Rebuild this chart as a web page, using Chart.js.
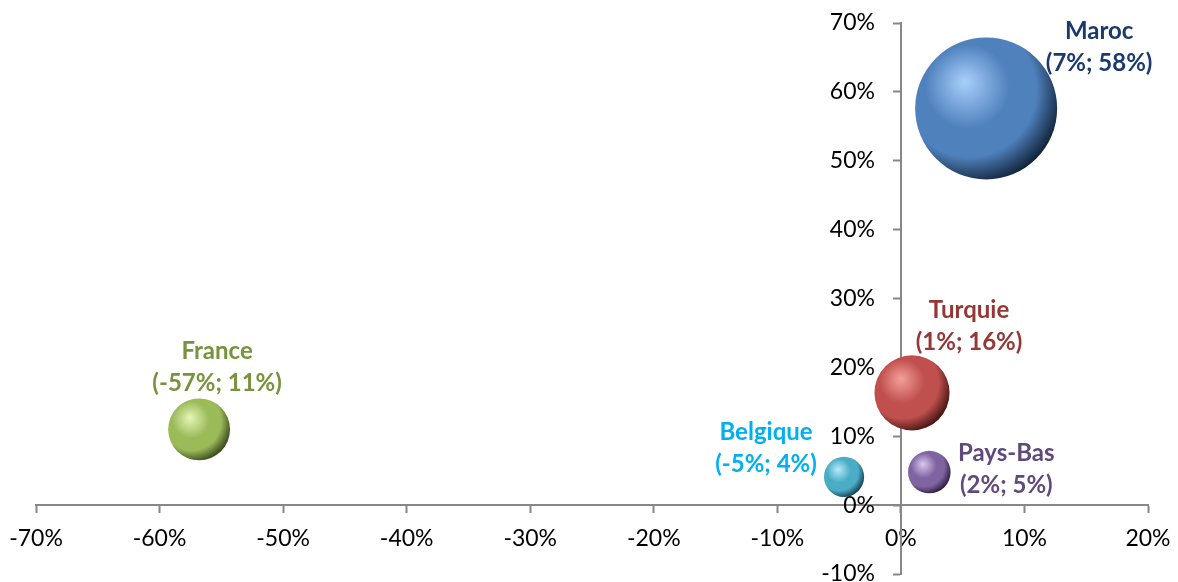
<!DOCTYPE html>
<html>
<head>
<meta charset="utf-8">
<title>Bubble chart</title>
<script src="https://cdn.jsdelivr.net/npm/chart.js@4/dist/chart.umd.min.js"></script>
<style>
  html, body { margin: 0; padding: 0; background: #ffffff; }
  #wrap { width: 1178px; height: 582px; position: relative; }
</style>
</head>
<body>
<div id="wrap"><canvas id="chart" width="1178" height="582"></canvas></div>
<script>
// Countries and their two growth rates (percent), plus a relative bubble weight
const countries = ['Maroc', 'Turquie', 'Belgique', 'Pays-Bas', 'France'];
const xValues   = [6.9, 0.9, -4.6, 2.3, -56.8];
const yValues   = [57.6, 16.3, 4.1, 4.8, 11.0];
const weights   = [100, 28, 8, 9, 19];
const xTicks    = [-70, -60, -50, -40, -30, -20, -10, 0, 10, 20];
const yTicks    = [-10, 0, 10, 20, 30, 40, 50, 60, 70];

// Styling: sphere colours (light / base / dark) and label colours
const palette = [
  { light: '#a9d0fb', base: '#4f81bd', dark: '#0f1f33', text: '#1a3a6e' },
  { light: '#f4a09c', base: '#c0504d', dark: '#3d1110', text: '#953735' },
  { light: '#b5ecfb', base: '#4bacc6', dark: '#103a47', text: '#00b0f0' },
  { light: '#d9c8f0', base: '#8064a2', dark: '#261a36', text: '#604a7b' },
  { light: '#e6f7b8', base: '#9bbb59', dark: '#33421a', text: '#77933c' }
];
// Label block placement relative to the bubble centre (pixels)
const labelPlacement = [
  { dx: 113, dy: -61 },
  { dx: 57, dy: -67 },
  { dx: -78, dy: -29 },
  { dx: 77, dy: -3 },
  { dx: 18, dy: -62 }
];
const MAX_RADIUS = 71;
const maxWeight = Math.max(...weights);

const pct = v => Math.round(v) + '%';

const points = countries.map((c, i) => ({
  x: xValues[i],
  y: yValues[i],
  r: MAX_RADIUS * Math.sqrt(weights[i] / maxWeight)
}));

// Bubbles may reach the plot edge; no extra inset for their radius
Chart.BubbleController.prototype.getMaxOverflow = function () { return false; };

function sphereFill(ctx) {
  const i = ctx.dataIndex;
  const col = palette[i];
  const chart = ctx.chart;
  if (ctx.type !== 'data' || !chart.chartArea || !chart.scales.x) return col.base;
  const p = ctx.raw;
  const cx = chart.scales.x.getPixelForValue(p.x);
  const cy = chart.scales.y.getPixelForValue(p.y);
  const r = p.r;
  const g = chart.ctx.createRadialGradient(cx - 0.3 * r, cy - 0.38 * r, 0, cx - 0.22 * r, cy - 0.22 * r, 1.32 * r);
  g.addColorStop(0, col.light);
  g.addColorStop(0.45, col.base);
  g.addColorStop(0.72, col.base);
  g.addColorStop(1, col.dark);
  return g;
}

const labelPlugin = {
  id: 'bubbleLabels',
  afterDatasetsDraw(chart) {
    const meta = chart.getDatasetMeta(0);
    const ctx = chart.ctx;
    ctx.save();
    ctx.font = 'bold 24px Lato, "Open Sans", sans-serif';
    ctx.textAlign = 'center';
    ctx.textBaseline = 'middle';
    meta.data.forEach((el, i) => {
      const pl = labelPlacement[i];
      const cx = el.x + pl.dx;
      const cy = el.y + pl.dy;
      ctx.fillStyle = palette[i].text;
      ctx.fillText(countries[i], cx, cy - 16);
      ctx.fillText('(' + pct(xValues[i]) + '; ' + pct(yValues[i]) + ')', cx, cy + 16);
    });
    ctx.restore();
  }
};

const axisColor = '#878787';
const tickFont = { family: 'Lato, "Open Sans", sans-serif', size: 23 };
const fixedTicks = list => s => { s.ticks = list.map(v => ({ value: v })); };
// axes cross inside the plot, so their labels need no reserved margin
const noMargin = s => { s.paddingTop = s.paddingBottom = s.paddingLeft = s.paddingRight = 0; };

const chart = new Chart(document.getElementById('chart'), {
  type: 'bubble',
  data: {
    datasets: [{
      data: points,
      backgroundColor: sphereFill,
      borderWidth: 0,
      hoverBorderWidth: 0,
      clip: false
    }]
  },
  options: {
    responsive: false,
    animation: false,
    events: [],
    layout: { padding: { left: 36, right: 30, top: 23, bottom: 8 } },
    plugins: { legend: { display: false }, tooltip: { enabled: false } },
    scales: {
      x: {
        type: 'linear',
        position: { y: 0 },
        min: xTicks[0],
        max: xTicks[xTicks.length - 1],
        afterBuildTicks: fixedTicks(xTicks),
        afterFit: noMargin,
        ticks: { callback: v => v + '%', font: tickFont, color: '#000', padding: 13, maxRotation: 0, autoSkip: false },
        grid: { drawOnChartArea: false, drawTicks: true, tickLength: 7, tickColor: axisColor, tickWidth: 2 },
        border: { color: axisColor, width: 2 }
      },
      y: {
        type: 'linear',
        position: { x: 0 },
        min: yTicks[0],
        max: yTicks[yTicks.length - 1],
        afterBuildTicks: fixedTicks(yTicks),
        afterFit: noMargin,
        ticks: { display: false },
        grid: { drawOnChartArea: false, drawTicks: true, tickLength: 7, tickColor: axisColor, tickWidth: 2 },
        border: { color: axisColor, width: 2 }
      },
      // value labels of the vertical axis, set slightly left of the axis line
      yLabels: {
        type: 'linear',
        axis: 'y',
        position: { x: -2.1 },
        min: yTicks[0],
        max: yTicks[yTicks.length - 1],
        afterBuildTicks: fixedTicks(yTicks),
        afterFit: noMargin,
        ticks: { callback: v => v + '%', font: tickFont, color: '#000', autoSkip: false },
        grid: { display: false },
        border: { display: false }
      }
    }
  },
  plugins: [labelPlugin]
});
</script>
</body>
</html>
